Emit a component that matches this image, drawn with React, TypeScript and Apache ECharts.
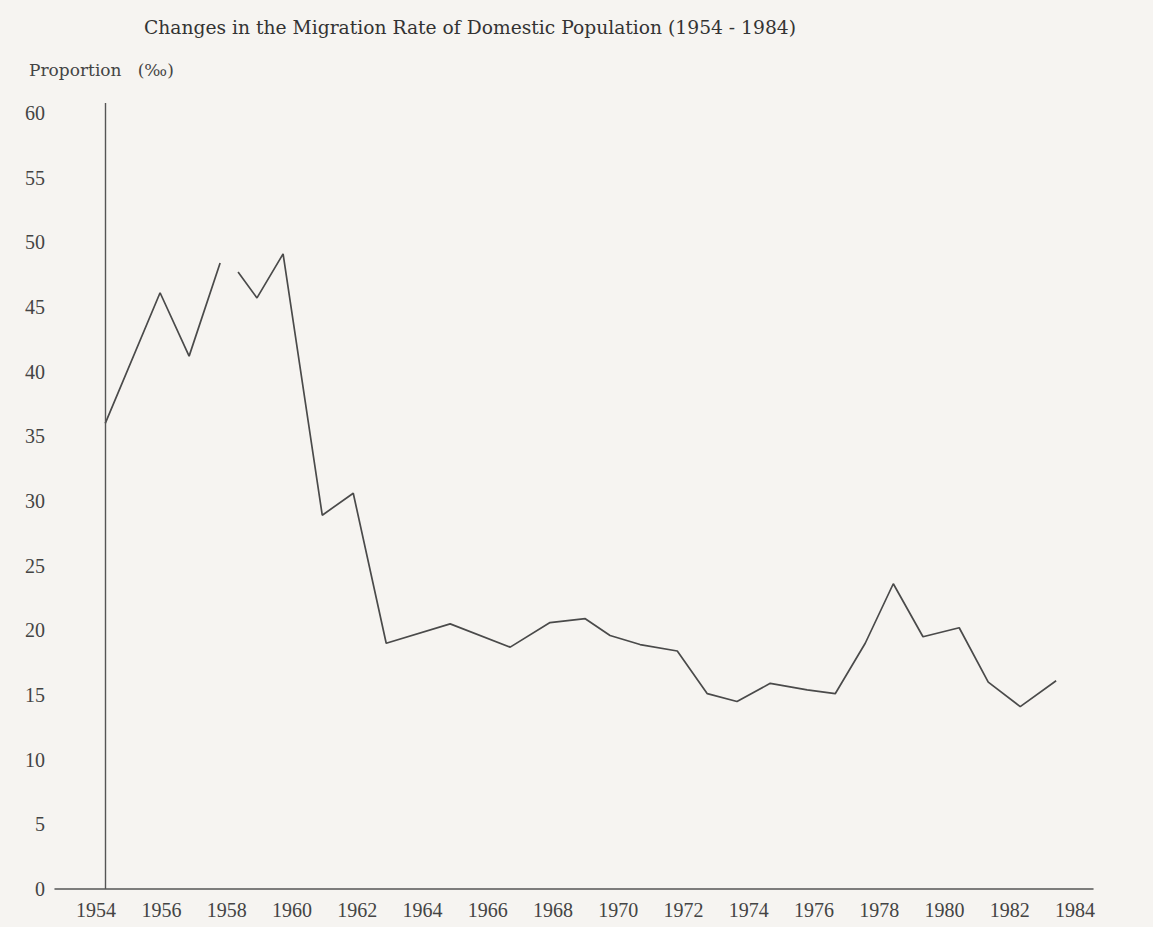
import React, { useEffect, useRef } from "react";
import * as echarts from "echarts";

// Data: [year position, migration rate ‰]; null marks the break in the line
const years: number[] = [
  1954.28, 1955.96, 1956.85, 1957.8, 1958.07, 1958.35, 1958.93, 1959.73, 1960.93, 1961.88,
  1962.89, 1964.85, 1966.69, 1967.91, 1968.99, 1969.75, 1970.67, 1971.81, 1972.73, 1973.64,
  1974.66, 1975.79, 1976.65, 1977.57, 1978.43, 1979.34, 1980.45, 1981.34, 1982.32, 1983.42,
];
const rates: (number | null)[] = [
  36.0, 46.1, 41.2, 48.4, null, 47.7, 45.7, 49.1, 28.9, 30.6,
  19.0, 20.5, 18.7, 20.6, 20.9, 19.6, 18.9, 18.4, 15.1, 14.5,
  15.9, 15.4, 15.1, 19.0, 23.6, 19.5, 20.2, 16.0, 14.1, 16.1,
];
const xTickLabels: number[] = [
  1954, 1956, 1958, 1960, 1962, 1964, 1966, 1968, 1970, 1972, 1974, 1976, 1978, 1980, 1982, 1984,
];
const yTickLabels: number[] = [0, 5, 10, 15, 20, 25, 30, 35, 40, 45, 50, 55, 60];
const axisOriginYear = 1954.28;

const titleText = "Changes in the Migration Rate of Domestic Population (1954 - 1984)";
const yName = "Proportion   (‰)";

export default function App() {
  const ref = useRef<HTMLDivElement>(null);
  useEffect(() => {
    if (!ref.current) return;
    const chart = echarts.init(ref.current, undefined, { renderer: "svg" });
    const font = "'Liberation Serif', 'DejaVu Serif', serif";
    const wide = "'DejaVu Serif', 'Liberation Serif', serif";
    chart.setOption({
      animation: false,
      backgroundColor: "#f6f4f1",
      textStyle: { fontFamily: font },
      title: [
        {
          text: titleText,
          left: 139,
          top: 13,
          textStyle: { fontFamily: wide, fontSize: 18.7, fontWeight: "normal", color: "#333" },
        },
        {
          text: yName,
          left: 24,
          top: 56,
          textStyle: { fontFamily: wide, fontSize: 17, fontWeight: "normal", color: "#444" },
        },
      ],
      grid: { left: 55, right: 60, top: 103, bottom: 38, containLabel: false, outerBoundsMode: "none" },
      xAxis: {
        type: "value",
        min: 1952.74,
        max: 1984.55,
        axisLine: { show: true, lineStyle: { color: "#555", width: 1.5 } },
        axisTick: { show: false },
        splitLine: { show: false },
        axisLabel: {
          customValues: xTickLabels,
          formatter: (v: number) => String(Math.round(v)),
          fontSize: 20,
          margin: 11,
          color: "#444",
          fontFamily: font,
        },
      },
      yAxis: {
        type: "value",
        min: 0,
        max: 60.77,
        axisLine: { show: false },
        axisTick: { show: false },
        splitLine: { show: false },
        axisLabel: {
          customValues: yTickLabels,
          fontSize: 20,
          margin: 10,
          color: "#444",
          fontFamily: font,
        },
      },
      series: [
        {
          type: "line",
          data: years.map((y, i) => [y, rates[i] === null ? "-" : rates[i]]),
          connectNulls: false,
          symbol: "none",
          lineStyle: { color: "#4a4a4a", width: 1.7 },
          markLine: {
            silent: true,
            symbol: "none",
            label: { show: false },
            lineStyle: { color: "#555", width: 1.4, type: "solid" },
            data: [{ xAxis: axisOriginYear }],
          },
        },
      ],
    });
    return () => chart.dispose();
  }, []);
  return (
    <div
      ref={ref}
      style={{ position: "fixed", left: 0, top: 0, width: 1153, height: 927 }}
    />
  );
}
